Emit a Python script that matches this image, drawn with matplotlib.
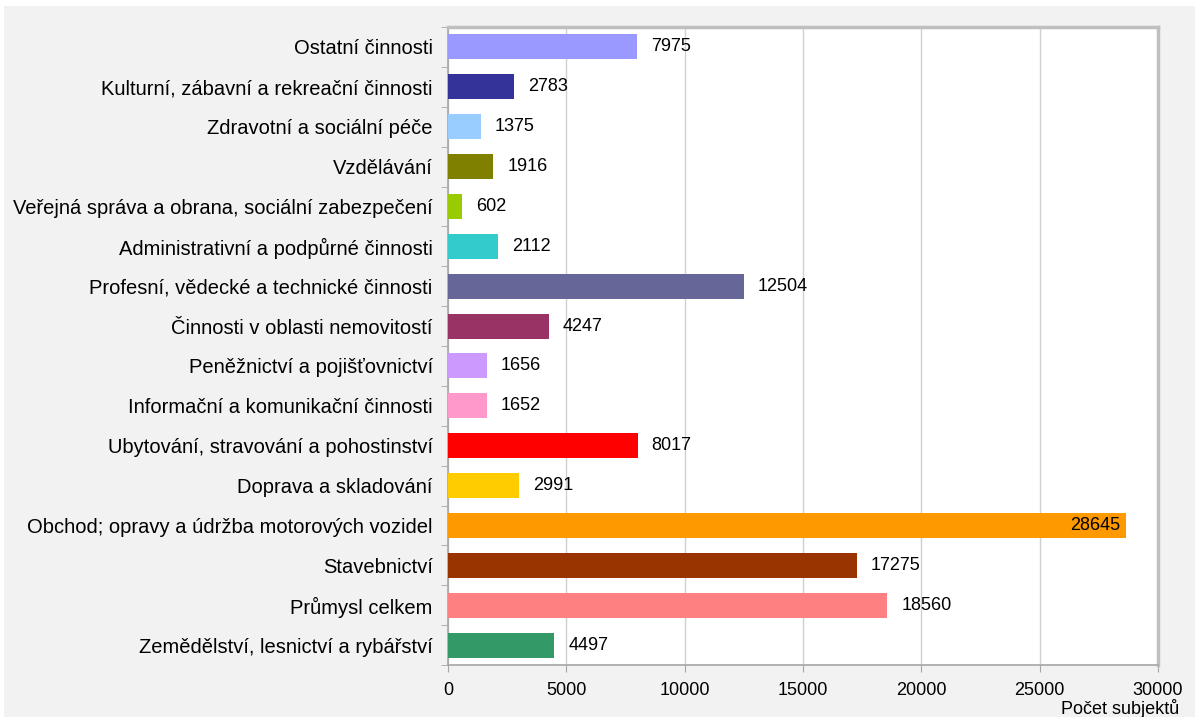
import matplotlib.pyplot as plt
import numpy as np

categories = [
    "Zemědělství, lesnictví a rybářství",
    "Průmysl celkem",
    "Stavebnictví",
    "Obchod; opravy a údržba motorových vozidel",
    "Doprava a skladování",
    "Ubytování, stravování a pohostinství",
    "Informační a komunikační činnosti",
    "Peněžnictví a pojišťovnictví",
    "Činnosti v oblasti nemovitostí",
    "Profesní, vědecké a technické činnosti",
    "Administrativní a podpůrné činnosti",
    "Veřejná správa a obrana, sociální zabezpečení",
    "Vzdělávání",
    "Zdravotní a sociální péče",
    "Kulturní, zábavní a rekreační činnosti",
    "Ostatní činnosti",
]
values = [4497, 18560, 17275, 28645, 2991, 8017, 1652, 1656, 4247, 12504,
          2112, 602, 1916, 1375, 2783, 7975]
colors = ["#339966", "#FF8080", "#993300", "#FF9900", "#FFCC00", "#FF0000",
          "#FF99CC", "#CC99FF", "#993366", "#666699", "#33CCCC", "#99CC00",
          "#808000", "#99CCFF", "#333399", "#9999FF"]
x_ticks = [0, 5000, 10000, 15000, 20000, 25000, 30000]

plt.rcParams["font.family"] = ["Liberation Sans", "DejaVu Sans"]

fig = plt.figure(figsize=(11.95, 7.17), dpi=100)
fig.patch.set_facecolor("white")
# grey chart-area background
fig.patches.append(plt.Rectangle((4 / 1195, 0), 1 - 4 / 1195, 1 - 6 / 717,
                                 transform=fig.transFigure, facecolor="#F2F2F2",
                                 edgecolor="none", zorder=-10))

ax = fig.add_axes([448 / 1195, 1 - 665 / 717, (1158 - 448) / 1195, (665 - 27) / 717])
ax.set_facecolor("white")

y = np.arange(len(categories))
ax.barh(y, values, height=0.63, color=colors, zorder=3)

for yi, v in zip(y, values):
    if v > 27000:
        ax.annotate(str(v), (v, yi), xytext=(-4, 0), textcoords="offset points",
                    ha="right", va="center", fontsize=13, color="black", zorder=4)
    else:
        ax.annotate(str(v), (v, yi), xytext=(10, 0), textcoords="offset points",
                    ha="left", va="center", fontsize=13, color="black", zorder=4)

ax.set_xlim(0, 30000)
ax.set_ylim(-0.5, len(categories) - 0.5)
ax.set_xticks(x_ticks)
ax.set_xticklabels([str(t) for t in x_ticks], fontsize=13)
ax.set_yticks(y)
ax.set_yticklabels(categories, fontsize=14.5)
ax.tick_params(axis="y", length=0, pad=11)
ax.set_yticks(np.arange(-0.5, len(categories)), minor=True)
ax.tick_params(axis="y", which="minor", length=5, color="#A6A6A6")
ax.tick_params(axis="x", length=5, color="#A6A6A6", pad=7)

ax.grid(axis="x", color="#D0D0D0", linewidth=1, zorder=0)
for side in ["top", "right"]:
    ax.spines[side].set_color("#BFBFBF")
    ax.spines[side].set_linewidth(2.5)
for side in ["left", "bottom"]:
    ax.spines[side].set_color("#A6A6A6")
    ax.spines[side].set_linewidth(1.2)

fig.text(1120 / 1195, 1 - 709 / 717, "Počet subjektů", fontsize=13,
         ha="center", va="center")

fig.savefig("out.png", dpi=100)
